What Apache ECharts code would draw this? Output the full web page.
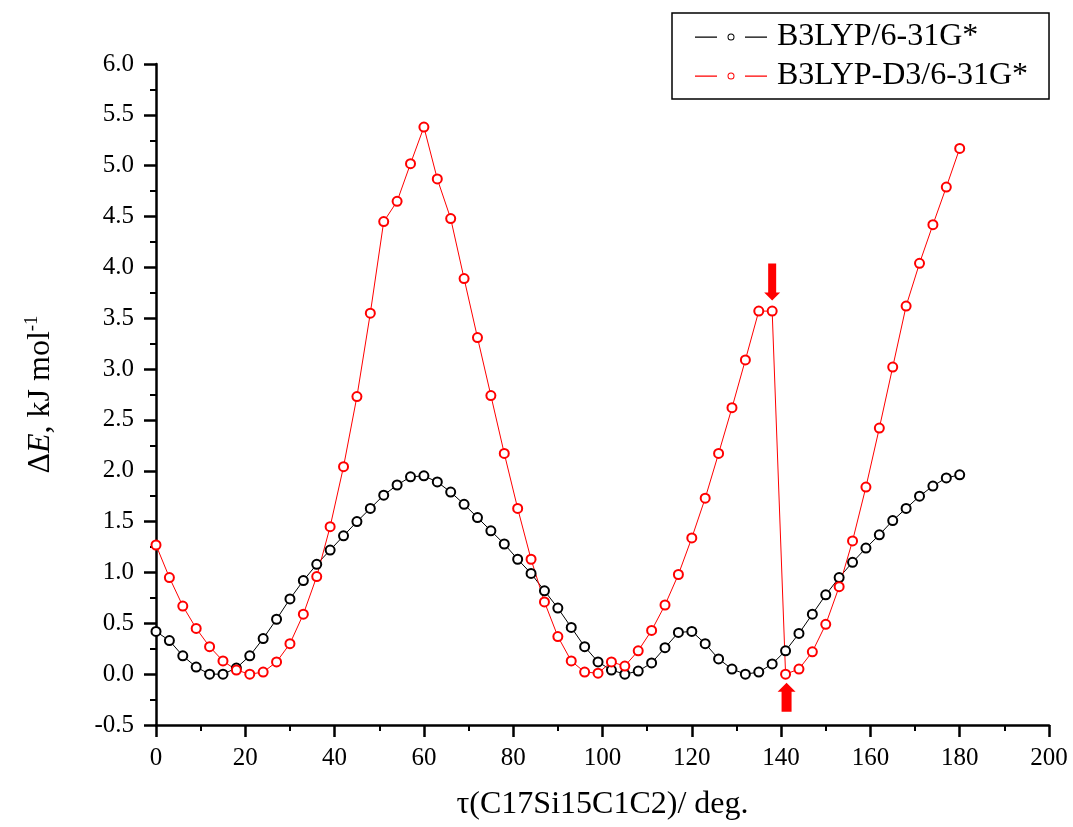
<!DOCTYPE html>
<html>
<head>
<meta charset="utf-8">
<script src="https://cdn.jsdelivr.net/npm/echarts@6/dist/echarts.min.js"></script>
<style>html,body{margin:0;padding:0;background:#fff}#c{width:1073px;height:827px}</style>
</head>
<body>
<div id="c"></div>
<script>
var angles = [0,3,6,9,12,15,18,21,24,27,30,33,36,39,42,45,48,51,54,57,60,63,66,69,72,75,78,81,84,87,90,93,96,99,102,105,108,111,114,117,120,123,126,129,132,135,138,141,144,147,150,153,156,159,162,165,168,171,174,177,180];
var b3lyp = [0.42,0.33,0.18,0.07,0.00,0.00,0.06,0.18,0.35,0.54,0.74,0.92,1.08,1.22,1.36,1.50,1.63,1.76,1.86,1.94,1.95,1.89,1.79,1.67,1.54,1.41,1.28,1.13,0.99,0.82,0.65,0.46,0.27,0.12,0.04,0.00,0.03,0.11,0.26,0.41,0.42,0.30,0.15,0.05,0.00,0.02,0.10,0.23,0.40,0.59,0.78,0.95,1.10,1.24,1.37,1.51,1.63,1.75,1.85,1.93,1.96];
var b3lypD3 = [1.27,0.95,0.67,0.45,0.27,0.13,0.04,0.00,0.02,0.12,0.30,0.59,0.96,1.45,2.04,2.73,3.55,4.45,4.65,5.02,5.38,4.87,4.48,3.89,3.31,2.74,2.17,1.63,1.13,0.71,0.37,0.13,0.02,0.01,0.12,0.08,0.23,0.43,0.68,0.98,1.34,1.73,2.17,2.62,3.09,3.57,3.57,0.00,0.05,0.22,0.49,0.86,1.31,1.84,2.42,3.02,3.62,4.04,4.42,4.79,5.17];
var seriesNames = ['B3LYP/6-31G*', 'B3LYP-D3/6-31G*'];
var arrowDownAt = [138, 3.57];
var arrowUpAt = [141, 0.00];

function pairs(xs, ys){ return xs.map(function(x,i){ return [x, ys[i]]; }); }

var serif = 'Liberation Serif, Times New Roman, serif';
var legendIcon = 'path://M0,3h22v1.2h-22z M50,3h22v1.2h-22z M39.5,3.5A3.5,3.5 0 1,1 32.5,3.5A3.5,3.5 0 1,1 39.5,3.5Z M38.5,3.5A2.5,2.5 0 1,0 33.5,3.5A2.5,2.5 0 1,0 38.5,3.5Z';
var downArrow = 'path://M4,0L12,0L12,29L16,29L8,37L0,29L4,29Z';
var upArrow = 'path://M9,0L18,9L14,9L14,29L4,29L4,9L0,9Z';

var chart = echarts.init(document.getElementById('c'), null, {renderer:'canvas'});
chart.setOption({
  animation: false,
  backgroundColor: '#fff',
  grid: {left:156, right:24, top:64, bottom:102},
  legend: {
    orient: 'vertical',
    left: 672, top: 13,
    padding: [8, 21, 7, 23],
    borderColor: '#000', borderWidth: 1.5,
    itemWidth: 72, itemHeight: 7, itemGap: 7,
    icon: legendIcon,
    textStyle: {fontFamily: serif, fontSize: 32, color: '#000', lineHeight: 31, padding:[0,0,0,5]},
    data: seriesNames
  },
  xAxis: {
    type: 'value', min: 0, max: 200, interval: 20,
    name: 'τ(C17Si15C1C2)/ deg.', nameLocation: 'middle', nameGap: 64,
    nameTextStyle: {fontFamily: serif, fontSize: 32, color: '#000'},
    axisLine: {show: true, onZero: false, lineStyle: {color: '#000', width: 2.5}},
    axisTick: {show: true, inside: false, length: 12, lineStyle: {color: '#000', width: 2.5}},
    minorTick: {show: true, splitNumber: 2, length: 6, lineStyle: {color: '#000', width: 2}},
    splitLine: {show: false},
    axisLabel: {fontFamily: serif, fontSize: 25, color: '#000', margin: 21}
  },
  yAxis: {
    type: 'value', min: -0.5, max: 6, interval: 0.5,
    name: '{a|Δ}{b|E}{a|, kJ mol}{c|-1}', nameLocation: 'middle', nameGap: 97, nameRotate: 90,
    nameTextStyle: {
      fontFamily: serif, fontSize: 32, color: '#000',
      rich: {
        a: {fontFamily: serif, fontSize: 32, color: '#000', lineHeight: 36},
        b: {fontFamily: serif, fontSize: 32, fontStyle: 'italic', color: '#000', lineHeight: 36},
        c: {fontFamily: serif, fontSize: 19, color: '#000', verticalAlign: 'top', lineHeight: 19}
      }
    },
    axisLine: {show: true, onZero: false, lineStyle: {color: '#000', width: 2.5}},
    axisTick: {show: true, inside: false, length: 12, lineStyle: {color: '#000', width: 2.5}},
    minorTick: {show: true, splitNumber: 2, length: 6, lineStyle: {color: '#000', width: 2}},
    splitLine: {show: false},
    axisLabel: {fontFamily: serif, fontSize: 25, color: '#000', margin: 22,
      formatter: function(v){ return v.toFixed(1); }}
  },
  series: [
    {
      name: seriesNames[0], type: 'line', data: pairs(angles, b3lyp),
      symbol: 'emptyCircle', symbolSize: 9, color: '#000',
      lineStyle: {width: 1, color: '#000'},
      itemStyle: {color: '#000', borderWidth: 1}
    },
    {
      name: seriesNames[1], type: 'line', data: pairs(angles, b3lypD3),
      symbol: 'emptyCircle', symbolSize: 9, color: '#ff0000',
      lineStyle: {width: 1, color: '#ff0000'},
      itemStyle: {color: '#ff0000', borderWidth: 1},
      markPoint: {
        silent: true,
        label: {show: false},
        itemStyle: {color: '#ff0000'},
        data: [
          {coord: arrowDownAt, symbol: downArrow, symbolSize: [16, 37], symbolOffset: [0, -29]},
          {coord: arrowUpAt, symbol: upArrow, symbolSize: [18, 29], symbolOffset: [1, 23]}
        ]
      }
    }
  ]
});
</script>
</body>
</html>
